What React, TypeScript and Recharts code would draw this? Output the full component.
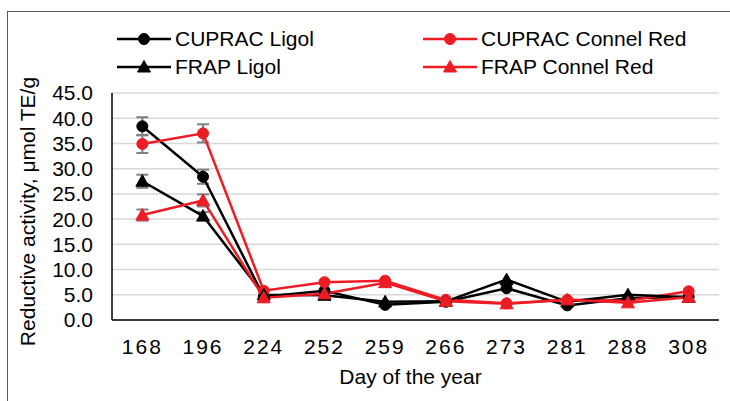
import React from 'react';
import { LineChart, Line, XAxis, YAxis, CartesianGrid, ErrorBar, Legend } from 'recharts';

const days = ['168', '196', '224', '252', '259', '266', '273', '281', '288', '308'];
const cupracLigol = [38.4, 28.4, 4.6, 5.8, 3.0, 3.6, 6.3, 2.9, 4.3, 4.6];
const cupracLigolErr = [1.8, 1.4, null, null, null, null, null, null, null, null];
const cupracConnelRed = [34.9, 37.0, 5.8, 7.5, 7.8, 4.0, 3.3, 4.0, 3.8, 5.7];
const cupracConnelRedErr = [1.8, 1.8, null, null, null, null, null, null, null, null];
const frapLigol = [27.5, 20.6, 5.0, 4.9, 3.6, 3.7, 8.0, 3.6, 5.0, 4.5];
const frapLigolErr = [1.3, 0.8, null, null, null, null, null, null, null, null];
const frapConnelRed = [20.8, 23.7, 4.4, 5.2, 7.4, 3.7, 3.2, 4.0, 3.4, 4.5];
const frapConnelRedErr = [1.1, 1.2, null, null, null, null, null, null, null, null];

const yTicks = [0, 5, 10, 15, 20, 25, 30, 35, 40, 45];
const seriesNames = ['CUPRAC Ligol', 'CUPRAC Connel Red', 'FRAP Ligol', 'FRAP Connel Red'];
const seriesKeys = ['cl', 'cc', 'fl', 'fc'];
const seriesColors = ['#000000', '#ed1c24', '#000000', '#ed1c24'];
const seriesMarkers = ['circle', 'circle', 'triangle', 'triangle'];

const data = days.map((d, i) => ({
  day: d,
  cl: cupracLigol[i],
  clErr: cupracLigolErr[i],
  cc: cupracConnelRed[i],
  ccErr: cupracConnelRedErr[i],
  fl: frapLigol[i],
  flErr: frapLigolErr[i],
  fc: frapConnelRed[i],
  fcErr: frapConnelRedErr[i],
}));

const FONT = '"Liberation Sans", Arial, sans-serif';
const HALF_BAND = 30.35;

function Marker({ cx, cy, shape, color }: { cx: number; cy: number; shape: string; color: string }) {
  if (shape === 'triangle') {
    return (
      <polygon
        points={`${cx},${cy - 6.5} ${cx - 6.5},${cy + 5} ${cx + 6.5},${cy + 5}`}
        fill={color}
        stroke={color}
        strokeWidth={1}
      />
    );
  }
  return <circle cx={cx} cy={cy} r={5.5} fill={color} stroke={color} strokeWidth={1} />;
}

const makeDot = (shape: string, color: string) => (props: any) => {
  const { cx, cy, index } = props;
  if (cx == null || cy == null) return <g key={`d-${index}`} />;
  return (
    <g key={`d-${shape}-${color}-${index}`}>
      <Marker cx={cx} cy={cy} shape={shape} color={color} />
    </g>
  );
};

const renderLegend = () => (
  <div
    style={{
      display: 'grid',
      gridTemplateColumns: '306px 280px',
      marginLeft: 117,
      fontFamily: FONT,
      fontSize: 21,
      color: '#000',
    }}
  >
    {seriesNames.map((n, i) => (
      <div key={n} style={{ display: 'flex', alignItems: 'center', height: 28 }}>
        <svg width={54} height={20} style={{ display: 'block' }}>
          <line x1={0} x2={54} y1={10} y2={10} stroke={seriesColors[i]} strokeWidth={2.5} />
          <Marker cx={27} cy={10} shape={seriesMarkers[i]} color={seriesColors[i]} />
        </svg>
        <span style={{ marginLeft: 4, whiteSpace: 'nowrap' }}>{n}</span>
      </div>
    ))}
  </div>
);

const YTitle = (props: any) => {
  const vb = props.viewBox || {};
  const cx = (vb.x || 0) + 27;
  const cy = (vb.y || 0) + (vb.height || 0) / 2 + 5;
  return (
    <text
      x={cx}
      y={cy}
      transform={`rotate(-90, ${cx}, ${cy})`}
      textAnchor="middle"
      dominantBaseline="central"
      fontFamily={FONT}
      fontSize={21}
      fill="#000"
    >
      Reductive activity, μmol TE/g
    </text>
  );
};

const XTitle = (props: any) => {
  const vb = props.viewBox || {};
  const cx = (vb.x || 0) + (vb.width || 0) / 2 - 5;
  const cy = (vb.y || 0) + 56;
  return (
    <text x={cx} y={cy} textAnchor="middle" dominantBaseline="central" fontFamily={FONT} fontSize={21} fill="#000">
      Day of the year
    </text>
  );
};

export default function App() {
  const errKeys = ['clErr', 'ccErr', 'flErr', 'fcErr'];
  return (
    <div style={{ position: 'fixed', left: 0, top: 0, width: 730, height: 401, overflow: 'hidden', background: '#fff' }}>
      <div
        style={{
          position: 'absolute',
          left: 7,
          top: 11,
          width: 780,
          height: 450,
          border: '1.5px solid #595959',
        }}
      />
      <div style={{ position: 'absolute', left: 0, top: 0 }}>
        <LineChart width={730} height={401} data={data} margin={{ top: 93, right: 11, bottom: 0, left: 0 }}>
          <CartesianGrid vertical={false} stroke="#d9d9d9" strokeWidth={1.5} />
          <XAxis
            dataKey="day"
            height={81}
            padding={{ left: HALF_BAND, right: HALF_BAND }}
            tickLine={false}
            tickSize={0}
            tickMargin={19}
            axisLine={{ stroke: '#000', strokeWidth: 1.5 }}
            tick={{ fontFamily: FONT, fontSize: 21, fill: '#000', letterSpacing: 2 }}
            interval={0}
            label={<XTitle />}
          />
          <XAxis
            xAxisId="top"
            dataKey="day"
            orientation="top"
            height={0}
            padding={{ left: HALF_BAND, right: HALF_BAND }}
            tick={false}
            tickLine={false}
            axisLine={{ stroke: '#000', strokeWidth: 1.5 }}
          />
          <YAxis
            width={112}
            domain={[0, 45]}
            ticks={yTicks}
            interval={0}
            tickFormatter={(v: number) => v.toFixed(1)}
            tickLine={false}
            tickSize={0}
            tickMargin={19}
            axisLine={{ stroke: '#000', strokeWidth: 1.5 }}
            tick={{ fontFamily: FONT, fontSize: 21, fill: '#000' }}
            label={<YTitle />}
          />
          <YAxis
            yAxisId="right"
            orientation="right"
            width={0}
            domain={[0, 45]}
            tick={false}
            tickLine={false}
            axisLine={{ stroke: '#000', strokeWidth: 1.5 }}
          />
          <Legend
            content={renderLegend}
            layout="horizontal"
            verticalAlign="middle"
            align="center"
            wrapperStyle={{ top: 25, left: 0, width: 730 }}
          />
          {seriesKeys.map((k, i) => (
            <Line
              key={k}
              dataKey={k}
              name={seriesNames[i]}
              stroke={seriesColors[i]}
              strokeWidth={2.5}
              dot={makeDot(seriesMarkers[i], seriesColors[i])}
              activeDot={false}
              isAnimationActive={false}
            >
              <ErrorBar dataKey={errKeys[i]} direction="y" stroke="#808080" strokeWidth={2} width={6} />
            </Line>
          ))}
        </LineChart>
      </div>
    </div>
  );
}
